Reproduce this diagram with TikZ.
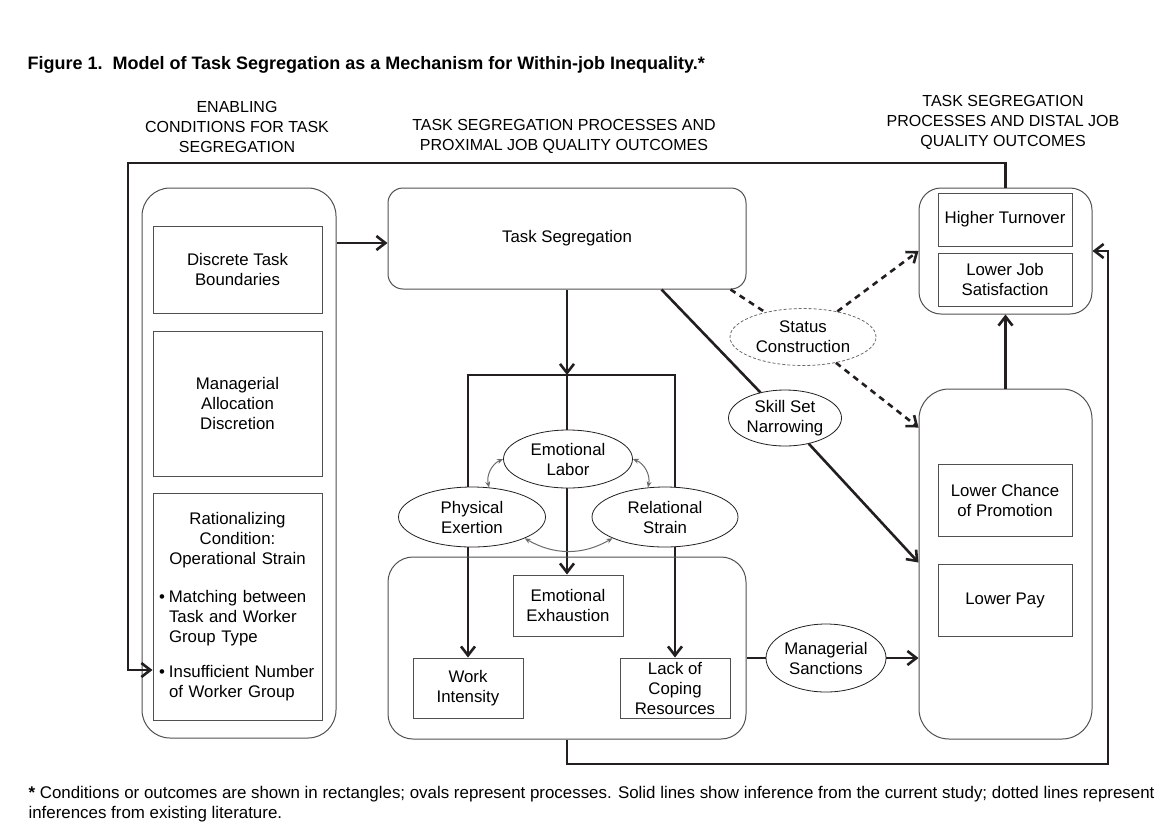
\documentclass[tikz,border=0pt]{standalone}
\usepackage{fontspec}
\setmainfont{Liberation Sans}
\usetikzlibrary{arrows.meta,shapes,backgrounds,positioning,calc}
\definecolor{inkline}{HTML}{231F20}
\definecolor{boxline}{HTML}{505050}
\definecolor{twoway}{HTML}{6A6A6A}

\begin{document}
\begin{tikzpicture}[x=1pt,y=-1pt,
  font=\fontsize{16.8}{20}\selectfont,
  outerbox/.style={draw=boxline,line width=1pt,rounded corners=#1},
  innerbox/.style={draw=boxline,line width=1pt,align=center,inner sep=1pt},
  process/.style={ellipse,draw=inkline,line width=0.8pt,fill=white,align=center,inner sep=0pt},
  conn/.style={draw=inkline,line width=2.6pt,-{Straight Barb[length=9pt,width=14pt]}},
  dashconn/.style={conn,dash pattern=on 6pt off 5pt},
  twowayarr/.style={draw=twoway,line width=1pt,{Stealth[length=6pt,width=5pt]}-{Stealth[length=6pt,width=5pt]}},
  heading/.style={align=center,font=\fontsize{16}{20}\selectfont}]
  \useasboundingbox (0,0) rectangle (1174,839);

  \node[anchor=west, font=\fontsize{18}{20}\selectfont\bfseries] (title) at (24,65) {Figure 1.\ \ Model of Task Segregation as a Mechanism for Within-job Inequality.*};

  \node[heading] (hdLeft) at (237,127) {ENABLING\\CONDITIONS FOR TASK\\SEGREGATION};
  \node[heading] (hdMid) at (564,136) {TASK SEGREGATION PROCESSES AND\\PROXIMAL JOB QUALITY OUTCOMES};
  \node[heading] (hdRight) at (1003,122) {TASK SEGREGATION\\PROCESSES AND DISTAL JOB\\QUALITY OUTCOMES};

  % rounded group boxes
  \node[outerbox=28pt, minimum width=194pt, minimum height=550pt] (leftBox) at (239,463) {};
  \node[outerbox=15pt, minimum width=358pt, minimum height=101pt] (tsBox) at (567,238.5) {Task Segregation};
  \node[outerbox=25pt, minimum width=358pt, minimum height=182pt] (midBox) at (567,648) {};
  \node[outerbox=22pt, minimum width=173pt, minimum height=126pt] (topRight) at (1005.5,251) {};
  \node[outerbox=30pt, minimum width=173pt, minimum height=350pt] (lowRight) at (1005.5,564) {};

  % conditions and outcomes
  \node[innerbox, minimum width=169pt, minimum height=87pt] (discrete) at (237.5,269.5) {Discrete Task\\Boundaries};
  \node[innerbox, minimum width=169pt, minimum height=145pt] (allocation) at (237.5,403.5) {Managerial\\Allocation\\Discretion};
  \node[draw=boxline, line width=1pt, minimum width=169pt, minimum height=227pt, text width=161pt, inner sep=4pt] (rational) at (237.5,606.5) {%
    {\centering Rationalizing\\Condition:\\Operational Strain\par}
    \vspace{18pt}
    \noindent\makebox[12pt][l]{\hspace{2pt}\textbullet}Matching between\\\hspace*{12pt}Task and Worker\\\hspace*{12pt}Group Type\par
    \vspace{15pt}
    \noindent\makebox[12pt][l]{\hspace{2pt}\textbullet}Insufficient Number\\\hspace*{12pt}of Worker Group\par
    \vspace{3pt}};
  \node[innerbox, minimum width=110pt, minimum height=60pt] (workInt) at (468,688) {Work\\Intensity};
  \node[innerbox, minimum width=110pt, minimum height=61pt] (emoExh) at (568,605.5) {Emotional\\Exhaustion};
  \node[innerbox, minimum width=110pt, minimum height=60pt] (lackCop) at (675,688) {Lack of\\Coping\\Resources};
  \node[innerbox, minimum width=134pt, minimum height=53pt] (turnover) at (1005,219.5) {Higher Turnover};
  \node[innerbox, minimum width=134pt, minimum height=53pt] (jobSat) at (1005,279.5) {Lower Job\\Satisfaction};
  \node[innerbox, minimum width=134pt, minimum height=72pt] (promotion) at (1005,500) {Lower Chance\\of Promotion};
  \node[innerbox, minimum width=134pt, minimum height=72pt] (pay) at (1005,600) {Lower Pay};

  % processes
  \node[process, minimum width=129pt, minimum height=58pt] (emoLabor) at (568,459) {Emotional\\Labor};
  \node[process, minimum width=147pt, minimum height=60pt] (physical) at (472,517) {Physical\\Exertion};
  \node[process, minimum width=146pt, minimum height=60pt] (relational) at (665,517) {Relational\\Strain};
  \node[process, draw=twoway, dash pattern=on 3pt off 2pt, minimum width=146pt, minimum height=57pt] (status) at (803,337) {Status\\Construction};
  \node[process, minimum width=113pt, minimum height=56pt] (skill) at (785,418) {Skill Set\\Narrowing};
  \node[process, minimum width=120pt, minimum height=68pt] (sanctions) at (826,658) {Managerial\\Sanctions};

  \node[anchor=north west, align=left, font=\fontsize{16.9}{20}\selectfont] (note) at (25,783) {\textbf{*} Conditions or outcomes are shown in rectangles; ovals represent processes. Solid lines show inference from the current study; dotted lines represent\\inferences from existing literature.};

  \coordinate (tsIn) at ([yshift=-4.5pt]tsBox.west);
  \draw[conn] (tsIn -| leftBox.east) -- (tsIn);

  \coordinate (barL) at (468,375);
  \coordinate (barM) at (567,375);
  \coordinate (barR) at (675,375);
  \draw[conn] (tsBox.south) -- (barM);
  \begin{scope}[on background layer]
    \draw[conn] (barR) -- (barL) -- (workInt.north);
    \draw[conn] (barL) -- (barR) -- (lackCop.north);
    \draw[conn] (barM) -- (barM |- emoExh.north);
  \end{scope}

  \draw[twowayarr] (physical.60) to[bend left=40] (emoLabor.west);
  \draw[twowayarr] (emoLabor.east) to[bend left=40] (relational.120);
  \draw[twowayarr] (physical.-22) to[bend right=30] (relational.-158);

  \coordinate (tsDash) at ([xshift=-16pt]tsBox.south east);
  \draw[dashconn,-] (tsDash) -- (status);
  \draw[dashconn] (status) -- (topRight.west);
  \coordinate (stIn) at ([yshift=-39pt]lowRight.north west);
  \draw[dashconn] (status) -- (stIn);

  \coordinate (tsSkill) at ([xshift=-85pt]tsBox.south east);
  \draw[conn,-] (tsSkill) -- (skill);
  \coordinate (skIn) at ([yshift=-174pt]lowRight.north west);
  \draw[conn] (skill) -- (skIn);

  \draw[conn] (lowRight.north) -- (topRight.south);
  \draw[conn,-] (sanctions.west -| midBox.east) -- (sanctions.west);
  \draw[conn] (sanctions.east) -- (sanctions.east -| lowRight.west);

  % feedback loops
  \coordinate (fbLow) at (1108,764);
  \draw[conn] (midBox.south) |- (fbLow) |- (topRight.east);
  \coordinate (fbTop) at (128,163);
  \coordinate (ratIn) at ([yshift=-63.5pt]rational.west);
  \draw[conn] (topRight.north) |- (fbTop) |- (ratIn);
\end{tikzpicture}
\end{document}
